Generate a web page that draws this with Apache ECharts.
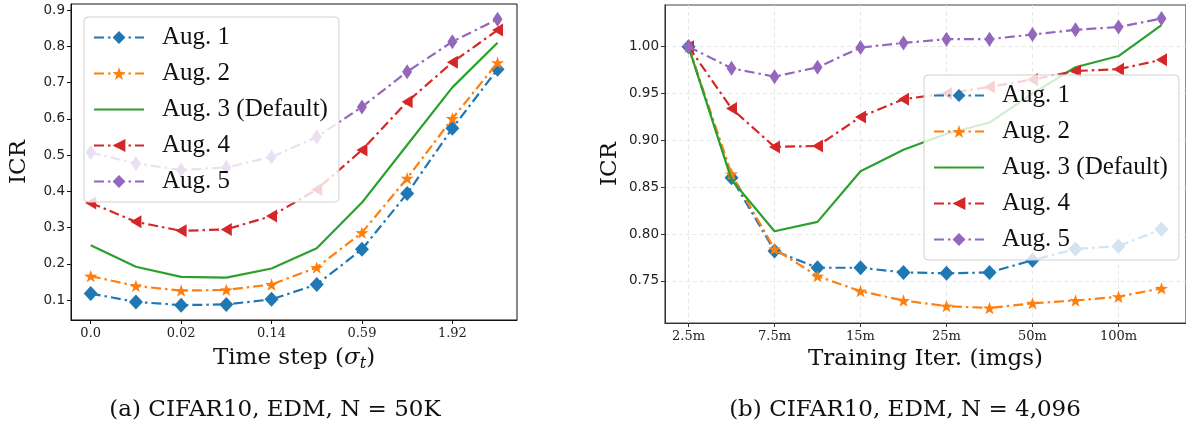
<!DOCTYPE html>
<html><head><meta charset="utf-8">
<script src="https://cdn.jsdelivr.net/npm/echarts@6/dist/echarts.min.js"></script>
<style>html,body{margin:0;padding:0;background:#fff}#c{width:1186px;height:431px}</style>
</head><body><div id="c"></div>
<script>
// ---- data ----
const seriesNames = ['Aug. 1', 'Aug. 2', 'Aug. 3 (Default)', 'Aug. 4', 'Aug. 5'];

// (a) time step index 0..9, labels at even indices
const leftTickPos = [0, 2, 4, 6, 8];
const leftTickLabels = ['0.0', '0.02', '0.14', '0.59', '1.92'];
const leftYTicks = [0.1, 0.2, 0.3, 0.4, 0.5, 0.6, 0.7, 0.8, 0.9];
const leftAug1 = [0.118, 0.095, 0.086, 0.088, 0.102, 0.143, 0.240, 0.394, 0.574, 0.737];
const leftAug2 = [0.166, 0.139, 0.126, 0.128, 0.143, 0.190, 0.286, 0.436, 0.601, 0.755];
const leftAug3 = [0.251, 0.192, 0.164, 0.162, 0.187, 0.243, 0.369, 0.528, 0.687, 0.810];
const leftAug4 = [0.368, 0.316, 0.291, 0.295, 0.332, 0.405, 0.514, 0.647, 0.756, 0.845];
const leftAug5 = [0.507, 0.477, 0.459, 0.466, 0.495, 0.550, 0.633, 0.730, 0.813, 0.875];

// (b) training iteration index 0..11, labels at even indices
const rightTickPos = [0, 2, 4, 6, 8, 10];
const rightTickLabels = ['2.5m', '7.5m', '15m', '25m', '50m', '100m'];
const rightYTicks = [0.75, 0.80, 0.85, 0.90, 0.95, 1.00];
const rightAug1 = [1.000, 0.860, 0.782, 0.764, 0.764, 0.759, 0.758, 0.759, 0.772, 0.784, 0.787, 0.805];
const rightAug2 = [1.000, 0.864, 0.784, 0.755, 0.739, 0.729, 0.723, 0.721, 0.726, 0.729, 0.733, 0.742];
const rightAug3 = [1.000, 0.858, 0.803, 0.813, 0.867, 0.890, 0.907, 0.919, 0.950, 0.978, 0.990, 1.023];
const rightAug4 = [1.000, 0.934, 0.893, 0.894, 0.925, 0.944, 0.950, 0.957, 0.965, 0.974, 0.976, 0.986];
const rightAug5 = [1.000, 0.977, 0.968, 0.978, 0.999, 1.004, 1.008, 1.008, 1.013, 1.018, 1.021, 1.030];

const captionA = '(a) CIFAR10, EDM, N = 50K';
const captionB = '(b) CIFAR10, EDM, N = 4,096';

// ---- styles ----
const colors = ['#1f77b4', '#ff7f0e', '#2ca02c', '#d62728', '#9467bd'];
const star = 'path://M0,-10L2.35,-3.24L9.51,-3.09L3.8,1.24L5.88,8.09L0,4L-5.88,8.09L-3.8,1.24L-9.51,-3.09L-2.35,-3.24Z';
const dashDot = [10, 4, 2.5, 4];
const seriesStyle = [
  {symbol: 'diamond', symbolSize: [14, 15], symbolRotate: 0, lineType: dashDot},
  {symbol: star, symbolSize: [13, 12.4], symbolRotate: 0, lineType: dashDot},
  {symbol: 'none', symbolSize: 0, symbolRotate: 0, lineType: 'solid'},
  {symbol: 'triangle', symbolSize: [13, 11], symbolRotate: 90, lineType: dashDot},
  {symbol: 'diamond', symbolSize: [10, 15], symbolRotate: 0, lineType: dashDot}
];

function toPairs(arr) { return arr.map((v, i) => [i, v]); }

function makeSeries(arrs, axisIdx) {
  return arrs.map((arr, k) => ({
    type: 'line',
    name: seriesNames[k],
    xAxisIndex: axisIdx, yAxisIndex: axisIdx,
    data: toPairs(arr),
    symbol: seriesStyle[k].symbol,
    symbolSize: seriesStyle[k].symbolSize,
    symbolRotate: seriesStyle[k].symbolRotate,
    showSymbol: seriesStyle[k].symbol !== 'none',
    symbolKeepAspect: false,
    color: colors[k],
    lineStyle: {width: 2.2, type: seriesStyle[k].lineType, color: colors[k]},
    itemStyle: {color: colors[k]},
    emphasis: {disabled: true},
    z: 2 + k * 0.01
  }));
}

function legend(left, top) {
  return {
    orient: 'vertical', left: left, top: top,
    backgroundColor: 'rgba(255,255,255,0.8)',
    borderColor: '#d0d0d0', borderWidth: 1, borderRadius: 4,
    padding: [8, 11, 8, 9],
    itemWidth: 50, itemHeight: 16, itemGap: 11,
    selectedMode: false,
    symbolKeepAspect: true,
    textStyle: {fontFamily: 'Liberation Serif', fontSize: 25, color: '#111', padding: [0, 0, 0, 13]},
    data: seriesNames.map((n, k) => seriesStyle[k].symbol === 'none'
      ? {name: n, icon: 'path://M0,0L50,0L50,2.2L0,2.2Z', itemStyle: {color: colors[k]}}
      : {name: n})
  };
}

const tickFont = {fontFamily: 'DejaVu Serif', fontSize: 13, color: '#222'};
const yTickFont = {fontFamily: 'DejaVu Sans', fontSize: 13.5, color: '#222'};
const nameFont = {fontFamily: 'DejaVu Serif', fontSize: 23, color: '#111'};

const chart = echarts.init(document.getElementById('c'), null, {renderer: 'canvas'});
chart.setOption({
  animation: false,
  backgroundColor: '#fff',
  grid: [
    {left: 71, top: 4, width: 446, height: 316, show: true, borderColor: '#111', borderWidth: 1, backgroundColor: 'transparent'},
    {left: 665, top: 5, width: 521, height: 318, show: true, borderColor: '#444', borderWidth: 1.2, backgroundColor: 'transparent'}
  ],
  xAxis: [
    {
      gridIndex: 0, type: 'value', min: -0.436, max: 9.43,
      axisLine: {show: true, onZero: false, lineStyle: {color: '#111'}},
      axisTick: {show: true, length: 4, customValues: leftTickPos, lineStyle: {color: '#111'}},
      axisLabel: {show: true, margin: 7, customValues: leftTickPos,
        formatter: v => leftTickLabels[leftTickPos.indexOf(Math.round(v))] || '', ...tickFont},
      splitLine: {show: false},
      name: '{a|Time step (}{i|σ}{s|t}{a|)}', nameLocation: 'middle', nameGap: 24,
      nameTextStyle: {...nameFont, rich: {
        a: {fontFamily: 'DejaVu Serif', fontSize: 23, color: '#111'},
        i: {fontFamily: 'DejaVu Serif', fontStyle: 'italic', fontSize: 23, color: '#111'},
        s: {fontFamily: 'DejaVu Serif', fontStyle: 'italic', fontSize: 16, color: '#111', padding: [12, 0, 0, 0]}
      }}
    },
    {
      gridIndex: 1, type: 'value', min: -0.547, max: 11.57,
      axisLine: {show: true, onZero: false, lineStyle: {color: '#333'}},
      axisTick: {show: true, length: 4, customValues: rightTickPos, lineStyle: {color: '#333'}},
      axisLabel: {show: true, margin: 7, customValues: rightTickPos,
        formatter: v => rightTickLabels[rightTickPos.indexOf(Math.round(v))] || '', ...tickFont},
      splitLine: {show: true, lineStyle: {color: '#e2e2e2', type: [4, 3], width: 0.8}},
      name: 'Training Iter. (imgs)', nameLocation: 'middle', nameGap: 24,
      nameTextStyle: nameFont
    }
  ],
  yAxis: [
    {
      gridIndex: 0, type: 'value', min: 0.045, max: 0.917,
      axisLine: {show: true, onZero: false, lineStyle: {color: '#111'}},
      axisTick: {show: true, length: 4, customValues: leftYTicks, lineStyle: {color: '#111'}},
      axisLabel: {show: true, margin: 6, customValues: leftYTicks, formatter: v => v.toFixed(1), ...yTickFont},
      splitLine: {show: false},
      name: 'ICR', nameLocation: 'middle', nameGap: 40, nameTextStyle: nameFont
    },
    {
      gridIndex: 1, type: 'value', min: 0.705, max: 1.0445,
      axisLine: {show: true, onZero: false, lineStyle: {color: '#333'}},
      axisTick: {show: true, length: 4, customValues: rightYTicks, lineStyle: {color: '#333'}},
      axisLabel: {show: true, margin: 6, customValues: rightYTicks, formatter: v => v.toFixed(2), ...yTickFont},
      splitLine: {show: true, lineStyle: {color: '#e2e2e2', type: [4, 3], width: 0.8}},
      name: 'ICR', nameLocation: 'middle', nameGap: 43, nameTextStyle: nameFont
    }
  ],
  legend: [legend(84, 17), legend(924, 75)],
  graphic: [
    {type: 'text', style: {text: captionA, font: '23px "DejaVu Serif"', fill: '#111', x: 275, y: 410, align: 'center', verticalAlign: 'middle'}},
    {type: 'text', style: {text: captionB, font: '23px "DejaVu Serif"', fill: '#111', x: 905, y: 410, align: 'center', verticalAlign: 'middle'}}
  ],
  series: [
    ...makeSeries([leftAug1, leftAug2, leftAug3, leftAug4, leftAug5], 0),
    ...makeSeries([rightAug1, rightAug2, rightAug3, rightAug4, rightAug5], 1)
  ]
});
</script></body></html>
